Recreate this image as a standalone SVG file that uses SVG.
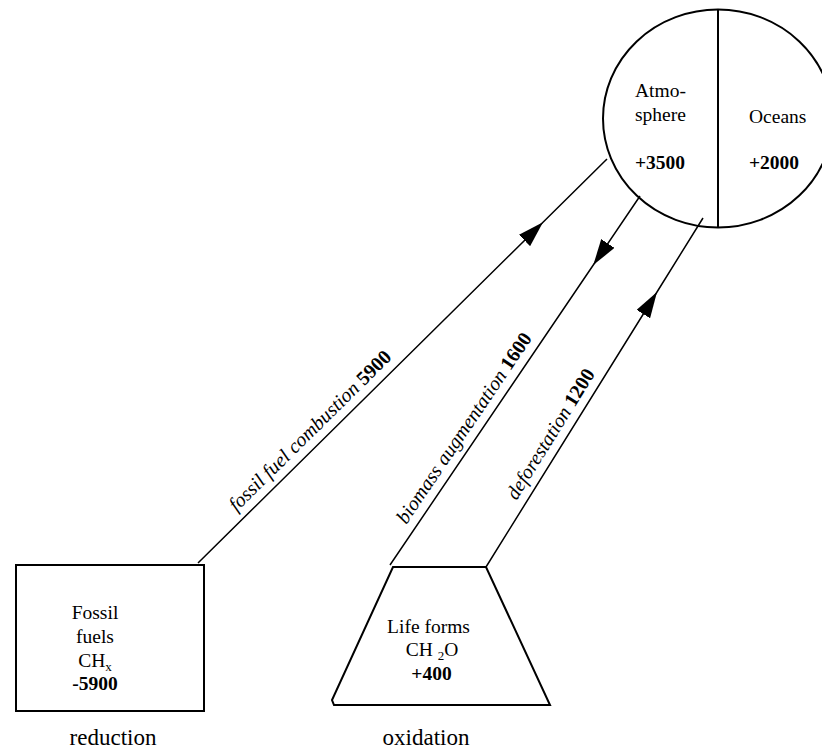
<svg xmlns="http://www.w3.org/2000/svg" width="822" height="753" viewBox="0 0 822 753">
  <style>
    text { font-family: "Liberation Serif", "Times New Roman", serif; font-size: 19.5px; fill: #000; }
    .b { font-weight: bold; }
    .lbl { font-style: italic; font-size: 20px; }
    .big { font-size: 23px; }
    .shape { fill: #fff; stroke: #000; stroke-width: 2; }
    .flow { fill: none; stroke: #000; stroke-width: 1.5; marker-mid: url(#head); }
  </style>
  <defs>
    <marker id="head" viewBox="-26 -8 26 16" markerWidth="26" markerHeight="16" refX="0" refY="0" orient="auto" markerUnits="userSpaceOnUse">
      <path d="M0,0 L-26,-8 L-26,8 Z" fill="#000"/>
    </marker>
  </defs>
  <rect width="822" height="753" fill="#fff"/>

  <!-- Atmosphere / oceans reservoir -->
  <g id="atmosphere-oceans">
    <ellipse class="shape" cx="718" cy="118.5" rx="115" ry="109"/>
    <line x1="718" y1="9.5" x2="718" y2="228" stroke="#000" stroke-width="2"/>
    <text x="635" y="97">Atmo-</text>
    <text x="635" y="121">sphere</text>
    <text x="635" y="169" class="b">+3500</text>
    <text x="749" y="123">Oceans</text>
    <text x="749" y="169" class="b">+2000</text>
  </g>

  <!-- Fossil fuel reservoir -->
  <g id="fossil-fuels">
    <rect class="shape" x="16" y="565" width="188" height="146" stroke-width="2.6"/>
    <text x="95" y="619" text-anchor="middle">Fossil</text>
    <text x="95" y="643" text-anchor="middle">fuels</text>
    <text x="95" y="667" text-anchor="middle">CH<tspan font-size="13" dy="4">x</tspan></text>
    <text x="95" y="690" text-anchor="middle" class="b">-5900</text>
    <text x="113" y="745" text-anchor="middle" class="big">reduction</text>
  </g>

  <!-- Biomass reservoir -->
  <g id="life-forms">
    <polygon class="shape" points="393,567 486,567 550,705 334,705 332,700"/>
    <text x="428.5" y="633" text-anchor="middle">Life forms</text>
    <text x="432" y="656" text-anchor="middle">CH <tspan font-size="13" dy="4">2</tspan><tspan dy="-4">O</tspan></text>
    <text x="431.5" y="680" text-anchor="middle" class="b">+400</text>
    <text x="426" y="745" text-anchor="middle" class="big">oxidation</text>
  </g>

  <!-- Carbon fluxes -->
  <g id="connectors">
    <path class="flow" d="M198,563 L543,222.2 L607,159"/>
    <path class="flow" d="M640,196 L593.3,265 L390,565"/>
    <path class="flow" d="M486,567 L657,292 L703,218"/>

    <g transform="translate(198,563) rotate(-44.65)">
      <text class="lbl" x="172.7" y="-9" text-anchor="middle">fossil fuel combustion <tspan class="b" font-style="normal">5900</tspan></text>
    </g>
    <g transform="translate(390,565) rotate(-55.9)">
      <text class="lbl" x="155" y="-9" text-anchor="middle">biomass augmentation <tspan class="b" font-style="normal">1600</tspan></text>
    </g>
    <g transform="translate(486,567) rotate(-58.1)">
      <text class="lbl" x="147" y="-9" text-anchor="middle">deforestation <tspan class="b" font-style="normal">1200</tspan></text>
    </g>
  </g>
</svg>
